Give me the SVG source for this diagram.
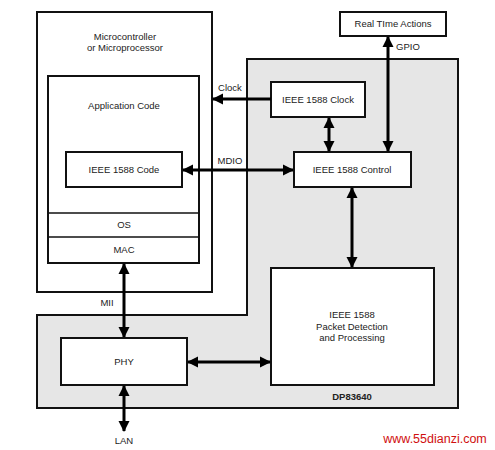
<svg xmlns="http://www.w3.org/2000/svg" width="495" height="450" viewBox="0 0 495 450">
<style>
.box{fill:#fff;stroke:#111;stroke-width:2}
.t{font-family:"Liberation Sans",Arial,sans-serif;font-size:9.5px;fill:#222;text-anchor:middle}
.c{stroke:#000;stroke-width:3;fill:none}
</style>
<defs>
<marker id="ah" markerUnits="userSpaceOnUse" markerWidth="12" markerHeight="12" refX="10" refY="6" orient="auto-start-reverse">
<path d="M0,0.5 L11,6 L0,11.5 Z" fill="#000"/>
</marker>
</defs>
<rect width="495" height="450" fill="#fff"/>
<g id="dp83640">
<path d="M247,59 H458 V408 H37 V315 H247 Z" fill="#e6e6e6" stroke="#111" stroke-width="2"/>
<text class="t" x="352" y="400" style="font-weight:bold">DP83640</text>
</g>
<g id="micro">
<rect class="box" x="37" y="12" width="175" height="280"/>
<text class="t" x="125" y="40">Microcontroller</text>
<text class="t" x="125" y="51">or Microprocessor</text>
</g>
<g id="app">
<rect class="box" x="48" y="76" width="151" height="187"/>
<text class="t" x="124" y="109">Application Code</text>
<line x1="48" y1="213" x2="199" y2="213" stroke="#111" stroke-width="1.5"/>
<line x1="48" y1="237" x2="199" y2="237" stroke="#111" stroke-width="1.5"/>
<text class="t" x="124" y="228">OS</text>
<text class="t" x="124" y="253">MAC</text>
</g>
<g id="code">
<rect class="box" x="66" y="152" width="116" height="35"/>
<text class="t" x="124" y="173">IEEE 1588 Code</text>
</g>
<g id="rta">
<rect class="box" x="340" y="12" width="106" height="24"/>
<text class="t" x="393" y="27">Real TIme Actions</text>
</g>
<g id="clock">
<rect class="box" x="271" y="82" width="94" height="35"/>
<text class="t" x="318" y="103">IEEE 1588 Clock</text>
</g>
<g id="control">
<rect class="box" x="294" y="152" width="117" height="35"/>
<text class="t" x="352" y="173">IEEE 1588 Control</text>
</g>
<g id="packet">
<rect class="box" x="271" y="268" width="163" height="117"/>
<text class="t" x="352" y="318">IEEE 1588</text>
<text class="t" x="352" y="330">Packet Detection</text>
<text class="t" x="352" y="341">and Processing</text>
</g>
<g id="phy">
<rect class="box" x="61" y="338" width="126" height="47"/>
<text class="t" x="124" y="365">PHY</text>
</g>
<g id="connectors">
<line class="c" x1="271" y1="99" x2="213" y2="99" marker-end="url(#ah)"/>
<line class="c" x1="183" y1="170" x2="293" y2="170" marker-start="url(#ah)" marker-end="url(#ah)"/>
<line class="c" x1="329" y1="118" x2="329" y2="151" marker-start="url(#ah)" marker-end="url(#ah)"/>
<line class="c" x1="388" y1="37" x2="388" y2="151" marker-start="url(#ah)" marker-end="url(#ah)"/>
<line class="c" x1="352" y1="188" x2="352" y2="267" marker-start="url(#ah)" marker-end="url(#ah)"/>
<line class="c" x1="124" y1="264" x2="124" y2="337" marker-start="url(#ah)" marker-end="url(#ah)"/>
<line class="c" x1="188" y1="362" x2="270" y2="362" marker-start="url(#ah)" marker-end="url(#ah)"/>
<line class="c" x1="124" y1="386" x2="124" y2="431" marker-start="url(#ah)" marker-end="url(#ah)"/>
<text class="t" x="230" y="91">Clock</text>
<text class="t" x="230" y="164">MDIO</text>
<text class="t" x="408" y="50">GPIO</text>
<text class="t" x="107" y="306">MII</text>
<text class="t" x="124" y="444">LAN</text>
</g>
<text x="435" y="443" style="font-family:'Liberation Sans',Arial,sans-serif;font-size:12.5px;fill:#d01010;text-anchor:middle">www.55dianzi.com</text>
</svg>
